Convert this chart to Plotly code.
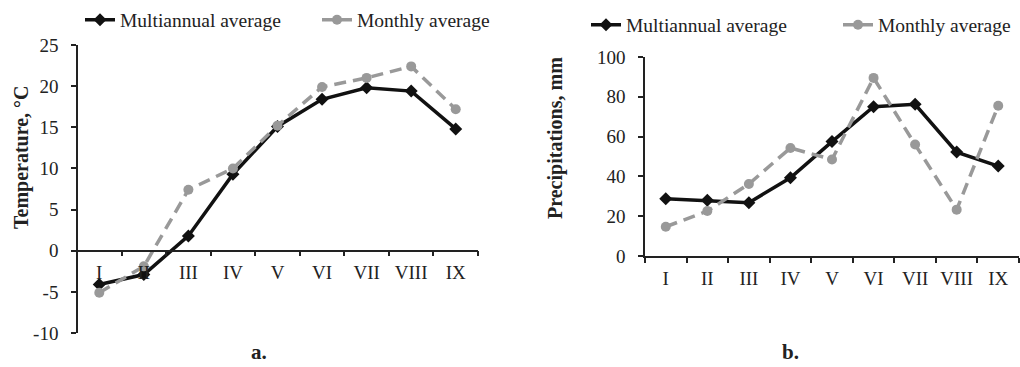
import plotly.graph_objects as go

months = ["I", "II", "III", "IV", "V", "VI", "VII", "VIII", "IX"]
temp_multiannual = [-4.1, -2.9, 1.8, 9.3, 15.1, 18.4, 19.8, 19.4, 14.8]
temp_monthly = [-5.1, -1.9, 7.4, 10.0, 15.2, 19.9, 21.0, 22.4, 17.2]
prec_multiannual = [28.8, 28.0, 26.8, 39.3, 57.5, 75.0, 76.2, 52.2, 45.2]
prec_monthly = [14.7, 22.6, 36.2, 54.3, 48.5, 89.5, 56.0, 23.3, 75.5]
temp_ticks = [-10, -5, 0, 5, 10, 15, 20, 25]
temp_ticklabels = ["-10", "-5", "0", "5", "10", "15", "20", "25"]
prec_ticks = [0, 20, 40, 60, 80, 100]

W, H = 1020, 367
FONT = "Liberation Serif"
BLACK = "#111111"
GREY = "#999999"
TXT = "#222222"

def px_x(p):
    return p / W

def px_y(p):
    return (H - p) / H

fig = go.Figure()

common_multi = dict(mode="lines+markers", line=dict(color=BLACK, width=3.5), showlegend=True,
                    marker=dict(symbol="diamond", size=10, color=BLACK))
common_month = dict(mode="lines+markers", line=dict(color=GREY, width=3.5, dash="12px,7px"),
                    showlegend=True, marker=dict(symbol="circle", size=10, color=GREY))

fig.add_trace(go.Scatter(x=months, y=temp_multiannual, name="Multiannual average",
                         xaxis="x", yaxis="y", legend="legend", **common_multi))
fig.add_trace(go.Scatter(x=months, y=temp_monthly, name="Monthly average",
                         xaxis="x", yaxis="y", legend="legend2", **common_month))
fig.add_trace(go.Scatter(x=months, y=prec_multiannual, name="Multiannual average",
                         xaxis="x2", yaxis="y2", legend="legend3", **common_multi))
fig.add_trace(go.Scatter(x=months, y=prec_monthly, name="Monthly average",
                         xaxis="x2", yaxis="y2", legend="legend4", **common_month))

tickfont = dict(family=FONT, size=19, color=TXT)
axis_common = dict(showline=True, linecolor=TXT, linewidth=1.5, ticks="outside",
                   ticklen=5, tickwidth=1.5, tickcolor=TXT, showgrid=False,
                   zeroline=False, tickfont=tickfont, fixedrange=True)

ly0, ly1 = px_y(333), px_y(45)
zero_pos = ly0 + (0 - (-10)) / 35 * (ly1 - ly0)

legend_font = dict(family=FONT, size=19.5, color=TXT)

def leg(xp, yp):
    return dict(orientation="h", x=px_x(xp), xanchor="left", y=px_y(yp), yanchor="middle",
                font=legend_font, bgcolor="rgba(0,0,0,0)", visible=True,
                itemclick=False, itemdoubleclick=False)

def label(text, xp, yp, size, angle=0):
    return dict(text=text, x=px_x(xp), y=px_y(yp), xref="paper", yref="paper",
                xanchor="center", yanchor="middle", textangle=angle, showarrow=False,
                font=dict(family=FONT, size=size, color=TXT))

fig.update_layout(
    width=W, height=H, showlegend=True,
    margin=dict(l=0, r=0, t=0, b=0, autoexpand=False),
    paper_bgcolor="white", plot_bgcolor="white",
    font=dict(family=FONT, size=19, color=TXT),
    xaxis=dict(domain=[px_x(77), px_x(478)], anchor="free", position=zero_pos,
               type="category", tickson="boundaries", range=[-0.5, 8.5], tickangle=0,
               ticklabelstandoff=5, **axis_common),
    yaxis=dict(domain=[ly0, ly1], anchor="free", position=px_x(77), range=[-10, 25],
               tickvals=temp_ticks, ticktext=temp_ticklabels, ticklabelstandoff=9,
               **axis_common),
    xaxis2=dict(domain=[px_x(645), px_x(1019)], anchor="y2", type="category", tickangle=0,
                tickson="boundaries", range=[-0.5, 8.5], ticklabelstandoff=4, **axis_common),
    yaxis2=dict(domain=[px_y(256), px_y(57)], anchor="x2", range=[0, 100],
                tickvals=prec_ticks, ticklabelstandoff=9, **axis_common),
    legend=leg(80, 20),
    legend2=leg(317, 20),
    legend3=leg(586, 25),
    legend4=leg(838, 25),
    annotations=[
        label("<b>Temperature, °C</b>", 21, 157, 20, -90),
        label("<b>Precipitations, mm</b>", 555, 138, 20, -90),
        label("<b>a.</b>", 259, 352, 21),
        label("<b>b.</b>", 790, 352, 21),
    ],
)

fig.write_html("out.html", config={"displayModeBar": False},
               post_script="document.body.style.margin='0';document.body.style.overflow='hidden';")
